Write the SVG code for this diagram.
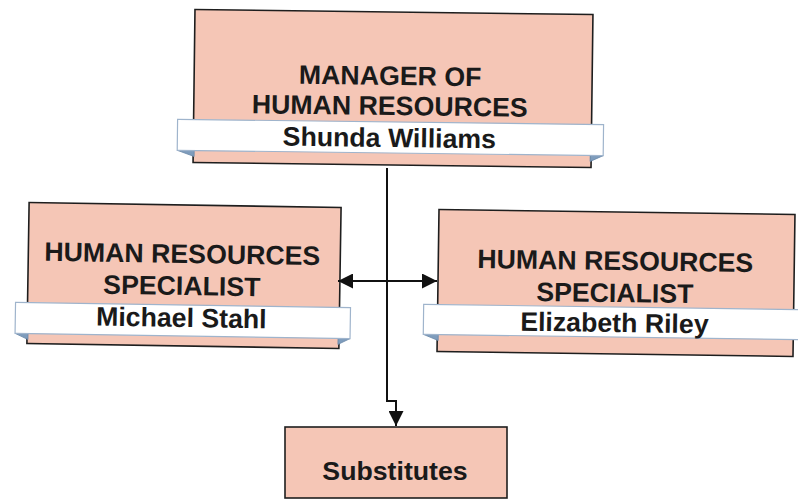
<svg xmlns="http://www.w3.org/2000/svg" width="798" height="501" viewBox="0 0 798 501">
<defs>
<style>
.box{fill:#F5C6B6;stroke:#1e1e1e;stroke-width:1.6}
.rib{fill:#ffffff;stroke:#9FB4CC;stroke-width:1.2}
.fold{fill:#7E9CBC;stroke:#6A88A8;stroke-width:0.8}
.t{font-family:"Liberation Sans",Arial,sans-serif;font-weight:bold;font-size:26.7px;fill:#1a1a1a;text-anchor:middle}
.c{fill:none;stroke:#111;stroke-width:2}
</style>
<marker id="ah" viewBox="0 0 10 10" refX="10" refY="5" markerWidth="15" markerHeight="15" markerUnits="userSpaceOnUse" orient="auto-start-reverse">
<path d="M0,0 L10,5 L0,10 z" fill="#111"/>
</marker>
</defs>
<rect width="798" height="501" fill="#ffffff"/>
<g id="manager" transform="rotate(0.72 393 89)">
<rect class="box" x="194" y="12" width="398" height="153"/>
<polygon class="fold" points="178,153 195,153 195,159"/>
<polygon class="fold" points="604,153 591,153 591,159"/>
<rect class="rib" x="178" y="122" width="426" height="31"/>
<text class="t" x="390" y="85">MANAGER OF</text>
<text class="t" x="390" y="115">HUMAN RESOURCES</text>
<text class="t" x="390" y="147">Shunda Williams</text>
</g>
<g id="specialist-stahl" transform="rotate(0.9 184 275)">
<rect class="box" x="28" y="205" width="312" height="141"/>
<polygon class="fold" points="16,336 29,336 29,342"/>
<polygon class="fold" points="351,336 339,336 339,342"/>
<rect class="rib" x="16" y="305" width="335" height="31"/>
<text class="t" x="182" y="263">HUMAN RESOURCES</text>
<text class="t" x="182" y="295">SPECIALIST</text>
<text class="t" x="182" y="327">Michael Stahl</text>
</g>
<g id="specialist-riley" transform="rotate(0.8 616 283)">
<rect class="box" x="438" y="212" width="356" height="142"/>
<polygon class="fold" points="424,337 439,337 439,343"/>
<rect class="rib" x="424" y="307" width="390" height="30"/>
<text class="t" x="615" y="270">HUMAN RESOURCES</text>
<text class="t" x="615" y="302">SPECIALIST</text>
<text class="t" x="615" y="332">Elizabeth Riley</text>
</g>
<g id="substitutes">
<rect class="box" x="285" y="427" width="222" height="71"/>
<text class="t" x="395" y="480">Substitutes</text>
</g>
<g id="connectors">
<path class="c" d="M387,168 L387,401 L396,401 L396,426" marker-end="url(#ah)"/>
<path class="c" d="M338,281 L437,281" marker-start="url(#ah)" marker-end="url(#ah)"/>
</g>
</svg>
